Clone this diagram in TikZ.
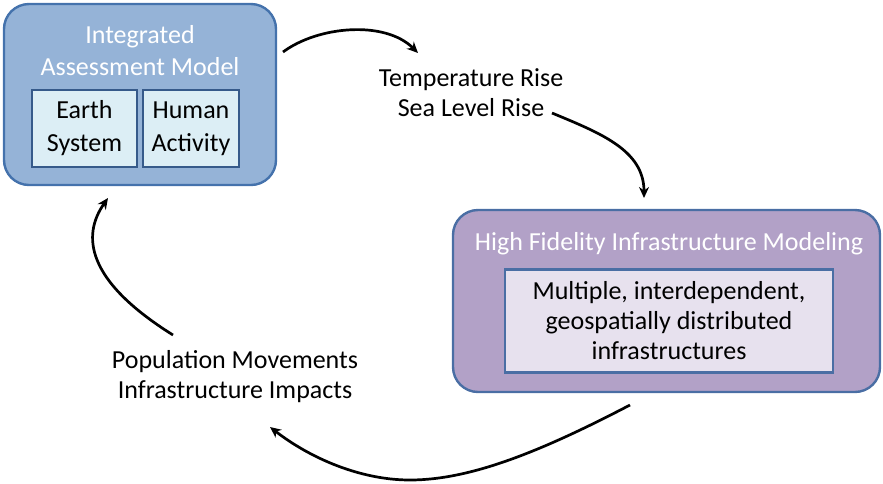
\documentclass[tikz,border=0pt]{standalone}
\usepackage{fontspec}
\setmainfont{Carlito}
\usetikzlibrary{positioning,arrows.meta}

\definecolor{iamfill}{HTML}{95B3D7}
\definecolor{iamedge}{HTML}{4472AC}
\definecolor{subfill}{HTML}{DCEEF5}
\definecolor{subedge}{HTML}{365A8A}
\definecolor{hfimfill}{HTML}{B2A1C7}
\definecolor{hfimedge}{HTML}{4A6EA4}
\definecolor{infrafill}{HTML}{E7E1EE}

\begin{document}
\begin{tikzpicture}[x=1pt, y=-1pt,
  txt/.style={font=\fontsize{26}{30}\selectfont, align=center, inner sep=0pt},
  panel/.style={draw, line width=2.4pt, rounded corners=25pt, inner sep=0pt},
  subbox/.style={draw=subedge, line width=2.2pt, txt},
  title/.style={txt, text=white},
  flow/.style={-{Stealth[length=11pt,width=10pt]}, line width=2.7pt}
]
\useasboundingbox (0,0) rectangle (883,483);

% integrated assessment model
\node[panel, draw=iamedge, fill=iamfill, minimum width=272pt, minimum height=181pt] (iam) at (140,94.5) {};
\node[title, font=\fontsize{26}{32}\selectfont] (iamtitle) at (140,51) {Integrated\\Assessment Model};
\node[subbox, fill=subfill, font=\fontsize{26}{33}\selectfont, minimum width=105pt, minimum height=77pt] (earth) at (84.5,128.5) {Earth\\System};
\node[subbox, fill=subfill, font=\fontsize{26}{33}\selectfont, minimum width=96pt, minimum height=77pt] (human) at (191,128.5) {Human\\Activity};

% infrastructure modeling
\node[panel, draw=hfimedge, fill=hfimfill, minimum width=427pt, minimum height=182pt] (hfim) at (666.5,301) {};
\node[title] (hfimtitle) at (669,244) {High Fidelity Infrastructure Modeling};
\node[subbox, draw=hfimedge, fill=infrafill, minimum width=328pt, minimum height=103pt] (infra) at (669,321)
  {Multiple, interdependent,\\geospatially distributed\\infrastructures};

% exchanged quantities
\node[txt] (climate) at (471,93) {Temperature Rise\\Sea Level Rise};
\node[txt] (impacts) at (235,377) {Population Movements\\Infrastructure Impacts};

% connectors
\coordinate (a1) at (283,52);
\coordinate (a2) at (418,53);
\coordinate (b1) at (552,113);
\coordinate (b2) at (644,198);
\coordinate (c1) at (630,405);
\coordinate (c2) at (270,427);
\coordinate (d1) at (173,335);
\coordinate (d2) at (108,198);

\draw[flow] (a1) .. controls (318,26) and (385,20) .. (a2);
\draw[flow] (b1) .. controls (600,133) and (644,150) .. (b2);
\draw[flow] (c1) .. controls (540,452) and (470,480) .. (410,480)
  .. controls (360,480) and (310,458) .. (c2);
\draw[flow] (d1) .. controls (85,280) and (82,235) .. (d2);
\end{tikzpicture}
\end{document}
